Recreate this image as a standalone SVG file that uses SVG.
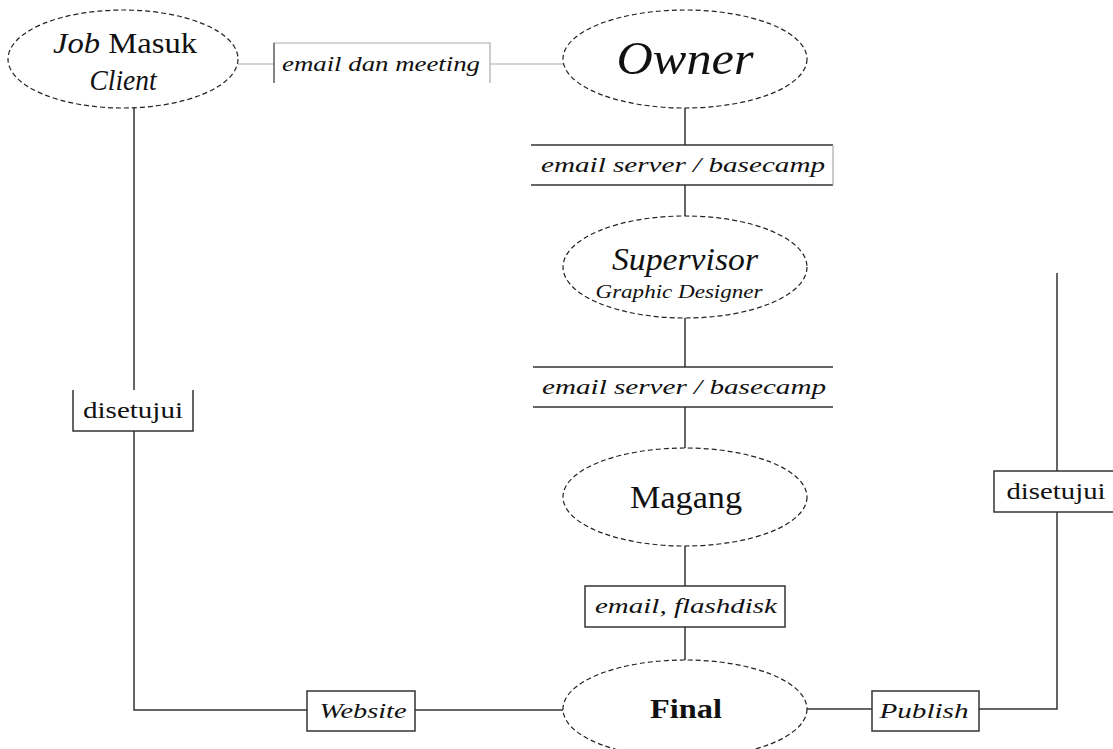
<svg xmlns="http://www.w3.org/2000/svg" width="1113" height="749" viewBox="0 0 1113 749">
<style>
.node{fill:#fff;stroke:#222;stroke-width:1.2;stroke-dasharray:5 3}
.ln{fill:none;stroke:#333;stroke-width:1.5}
.lt{fill:none;stroke:#aaa;stroke-width:1.2}
.box{fill:#fff;stroke:#333;stroke-width:1.5}
.t{font-family:"Liberation Serif",serif;fill:#111;text-anchor:middle}
.lab{font-family:"Liberation Serif",serif;font-style:italic;font-size:22px;fill:#111;text-anchor:middle}
</style>
<rect width="1113" height="749" fill="#fff"/>
<g id="connectors">
<line class="lt" x1="238" y1="64" x2="274" y2="64"/>
<line class="lt" x1="490" y1="64" x2="563" y2="64"/>
<line class="ln" x1="685" y1="108" x2="685" y2="145"/>
<line class="ln" x1="685" y1="185" x2="685" y2="216"/>
<line class="ln" x1="685" y1="317" x2="685" y2="367"/>
<line class="ln" x1="685" y1="407" x2="685" y2="448"/>
<line class="ln" x1="685" y1="546" x2="685" y2="586"/>
<line class="ln" x1="685" y1="627" x2="685" y2="660"/>
<polyline class="ln" points="134,108 134,710 307,710"/>
<line class="ln" x1="415" y1="710" x2="563" y2="710"/>
<line class="ln" x1="807" y1="709" x2="872" y2="709"/>
<polyline class="ln" points="979,709 1057,709 1057,273"/>
<g id="label-email-meeting">
<rect x="274" y="43" width="216" height="40" fill="#fff" stroke="none"/>
<polyline class="lt" points="274,83 274,43 490,43 490,83"/>
<line x1="274" y1="43" x2="274" y2="83" stroke="#555" stroke-width="1.2"/>
<text class="lab" x="381" y="71" textLength="198" lengthAdjust="spacingAndGlyphs">email dan meeting</text>
</g>
<g id="label-email-server-1">
<rect x="531" y="145" width="302" height="40" fill="#fff" stroke="none"/>
<line class="ln" x1="531" y1="145" x2="833" y2="145"/>
<line class="ln" x1="531" y1="185" x2="833" y2="185"/>
<line class="lt" x1="833" y1="145" x2="833" y2="185"/>
<text class="lab" x="683" y="172" textLength="284" lengthAdjust="spacingAndGlyphs">email server / basecamp</text>
</g>
<g id="label-email-server-2">
<rect x="533" y="367" width="300" height="40" fill="#fff" stroke="none"/>
<line class="ln" x1="533" y1="367" x2="833" y2="367"/>
<line class="ln" x1="533" y1="407" x2="833" y2="407"/>
<text class="lab" x="684" y="394" textLength="284" lengthAdjust="spacingAndGlyphs">email server / basecamp</text>
</g>
<g id="label-flashdisk">
<rect class="box" x="585" y="586" width="200" height="41"/>
<text class="lab" x="686" y="613" textLength="182" lengthAdjust="spacingAndGlyphs">email, flashdisk</text>
</g>
<g id="label-disetujui-left">
<rect x="73" y="390" width="120" height="41" fill="#fff" stroke="none"/>
<polyline class="ln" points="73,390 73,431 193,431 193,390"/>
<text class="t" x="133" y="418" font-size="23" textLength="100" lengthAdjust="spacingAndGlyphs">disetujui</text>
</g>
<g id="label-website">
<rect class="box" x="307" y="691" width="108" height="40"/>
<text class="lab" x="363" y="718" textLength="87" lengthAdjust="spacingAndGlyphs">Website</text>
</g>
<g id="label-publish">
<rect class="box" x="872" y="691" width="107" height="40"/>
<text class="lab" x="924" y="718" textLength="89" lengthAdjust="spacingAndGlyphs">Publish</text>
</g>
<g id="label-disetujui-right">
<rect class="box" x="994" y="471" width="125" height="41"/>
<text class="t" x="1056" y="499" font-size="23" textLength="99" lengthAdjust="spacingAndGlyphs">disetujui</text>
</g>
</g>
<g id="node-job">
<ellipse class="node" cx="123" cy="59" rx="115" ry="49"/>
<text class="t" x="125" y="53" font-size="29" textLength="144" lengthAdjust="spacingAndGlyphs"><tspan font-style="italic">Job</tspan> Masuk</text>
<text class="t" x="123" y="90" font-size="29" font-style="italic" textLength="67" lengthAdjust="spacingAndGlyphs">Client</text>
</g>
<g id="node-owner">
<ellipse class="node" cx="685" cy="59" rx="122" ry="49"/>
<text class="t" x="685" y="74" font-size="46" font-style="italic" textLength="137" lengthAdjust="spacingAndGlyphs">Owner</text>
</g>
<g id="node-supervisor">
<ellipse class="node" cx="685" cy="267" rx="122" ry="51"/>
<text class="t" x="685" y="270" font-size="31" font-style="italic" textLength="146" lengthAdjust="spacingAndGlyphs">Supervisor</text>
<text class="t" x="679" y="298" font-size="18" font-style="italic" textLength="167" lengthAdjust="spacingAndGlyphs">Graphic Designer</text>
</g>
<g id="node-magang">
<ellipse class="node" cx="685" cy="497" rx="122" ry="49"/>
<text class="t" x="686" y="508" font-size="32" textLength="112" lengthAdjust="spacingAndGlyphs">Magang</text>
</g>
<g id="node-final">
<ellipse class="node" cx="685" cy="709" rx="122" ry="49"/>
<text class="t" x="686" y="718" font-size="27" font-weight="bold" textLength="72" lengthAdjust="spacingAndGlyphs">Final</text>
</g>
</svg>
